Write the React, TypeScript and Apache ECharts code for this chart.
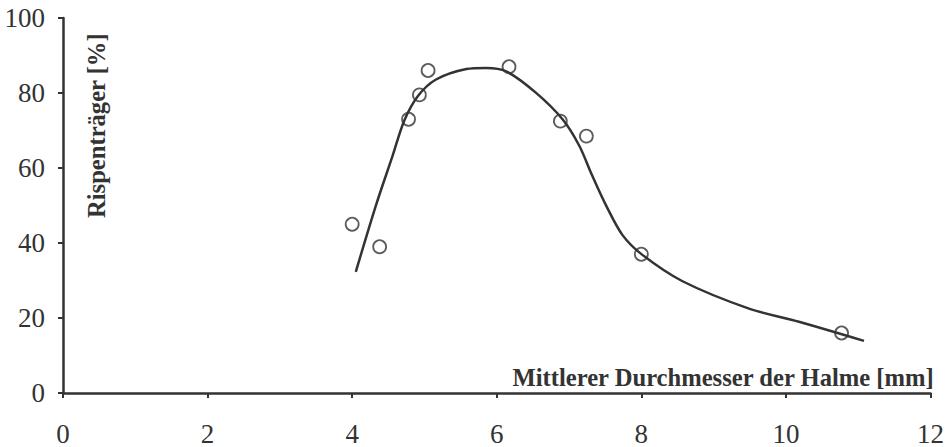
import React, { useEffect, useRef } from "react";
import * as echarts from "echarts";

// Measured points: stem diameter [mm] vs. share of panicle bearers [%]
const diameters = [4.0, 4.38, 4.78, 4.93, 5.05, 6.17, 6.88, 7.24, 8.0, 10.77];
const bearers = [45, 39, 73, 79.5, 86, 87, 72.5, 68.5, 37, 16];

// Fitted trend curve
const curveX = [4.05, 4.33, 4.56, 4.72, 4.91, 5.16, 5.58, 5.85, 6.13, 6.54, 6.91, 7.14, 7.32, 7.51, 7.74, 8.01, 8.57, 9.49, 10.18, 11.08];
const curveY = [32.3, 50.1, 63.3, 72.6, 79.2, 83.6, 86.4, 86.7, 85.8, 80.1, 73.0, 66.0, 58.0, 50.1, 42.1, 36.9, 29.8, 22.5, 19.0, 13.9];

const xTitle = "Mittlerer Durchmesser der Halme [mm]";
const yTitle = "Rispenträger [%]";

const INK = "#333333";
const FONT = "Liberation Serif";

export default function App() {
  const ref = useRef<HTMLDivElement>(null);

  useEffect(() => {
    document.body.style.margin = "0";
    if (!ref.current) return;
    const chart = echarts.init(ref.current, null, { renderer: "svg" });
    chart.setOption({
      animation: false,
      backgroundColor: "#ffffff",
      grid: { left: 63, right: 15, top: 18, bottom: 51 },
      xAxis: {
        type: "value",
        min: 0,
        max: 12,
        interval: 2,
        splitLine: { show: false },
        axisLine: { show: true, onZero: false, lineStyle: { color: INK, width: 2.5 } },
        axisTick: { show: true, length: 5, lineStyle: { color: INK, width: 2 } },
        axisLabel: { color: INK, fontFamily: FONT, fontSize: 27, margin: 27 },
      },
      yAxis: {
        type: "value",
        min: 0,
        max: 100,
        interval: 20,
        splitLine: { show: false },
        axisLine: { show: true, lineStyle: { color: INK, width: 2.5 } },
        axisTick: { show: true, length: 5, lineStyle: { color: INK, width: 2 } },
        axisLabel: { color: INK, fontFamily: FONT, fontSize: 27, margin: 18 },
      },
      graphic: [
        {
          type: "text",
          right: 12,
          top: 365,
          style: { text: xTitle, fill: INK, font: `bold 24.6px ${FONT}` },
        },
        {
          type: "text",
          x: 84,
          y: 218,
          rotation: Math.PI / 2,
          style: { text: yTitle, fill: INK, font: `bold 24.6px ${FONT}`, textVerticalAlign: "top" },
        },
      ],
      series: [
        {
          type: "line",
          data: curveX.map((x, i) => [x, curveY[i]]),
          smooth: 0.3,
          showSymbol: false,
          lineStyle: { color: INK, width: 2.5 },
          z: 2,
        },
        {
          type: "scatter",
          data: diameters.map((x, i) => [x, bearers[i]]),
          symbol: "circle",
          symbolSize: 13,
          itemStyle: { color: "rgba(255,255,255,0)", borderColor: INK, borderWidth: 1.8 },
          z: 3,
        },
      ],
    });
    return () => chart.dispose();
  }, []);

  return <div ref={ref} style={{ width: 947, height: 447 }} />;
}
